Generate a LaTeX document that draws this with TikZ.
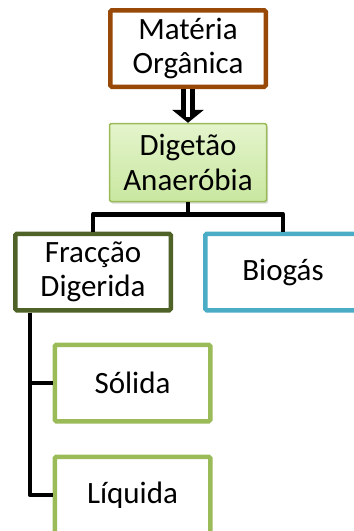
\documentclass[tikz,border=0pt]{standalone}
\usepackage{fontspec}
\setmainfont{Carlito}
\usetikzlibrary{arrows.meta,shadows}
\definecolor{brownline}{HTML}{984807}
\definecolor{oliveline}{HTML}{4F6228}
\definecolor{greenline}{HTML}{9BBB59}
\definecolor{blueline}{HTML}{4BACC6}
\definecolor{greentop}{HTML}{E4F4CC}
\definecolor{greenbot}{HTML}{C9E7A0}

\begin{document}
\begin{tikzpicture}[x=1pt,y=-1pt]%
  \tikzstyle{box}=[rectangle,draw,fill=white,align=center,line width=4.5pt,rounded corners=1.5pt,
    minimum width=155.5pt,minimum height=76.5pt,font=\fontsize{31}{34.5}\selectfont]
  \tikzstyle{stage}=[box,line width=1.5pt,minimum width=157pt,minimum height=78pt,
    draw=greenline,top color=greentop,bottom color=greenbot,
    drop shadow={shadow xshift=1.5pt,shadow yshift=-2pt,opacity=0.3}]
  \tikzstyle{link}=[line width=4.5pt,line join=round]
  \useasboundingbox (0,0) rectangle (354,531);
  \clip (0,0) rectangle (354,531);
  \node(mat)[box,draw=brownline] at (188,48.5) {Matéria\\Orgânica};
  \node(dig)[stage] at (188,162.5) {Digetão\\Anaeróbia};
  \node(frac)[box,draw=oliveline] at (93,272) {Fracção\\Digerida};
  \node(bio)[box,draw=blueline] at (283,272) {Biogás};
  \node(sol)[box,draw=greenline] at (132.5,383) {Sólida};
  \node(liq)[box,draw=greenline] at (132.5,495) {Líquida};
  % hollow arrow
  \draw[line width=14pt,-{Triangle[width=32pt,length=13pt,line width=0pt]}] (mat.south) -- (dig.north);
  \draw[white,line width=4pt,shorten >=6pt] (mat.south) -- (dig.north);
  \draw[link] (dig.south) -- ++(0,12) -| (frac.north);
  \draw[link] (dig.south) -- ++(0,12) -| (bio.north);
  \draw[link] ([xshift=17pt]frac.south west) |- (sol.west);
  \draw[link] ([xshift=17pt]frac.south west) |- (liq.west);
\end{tikzpicture}
\end{document}
